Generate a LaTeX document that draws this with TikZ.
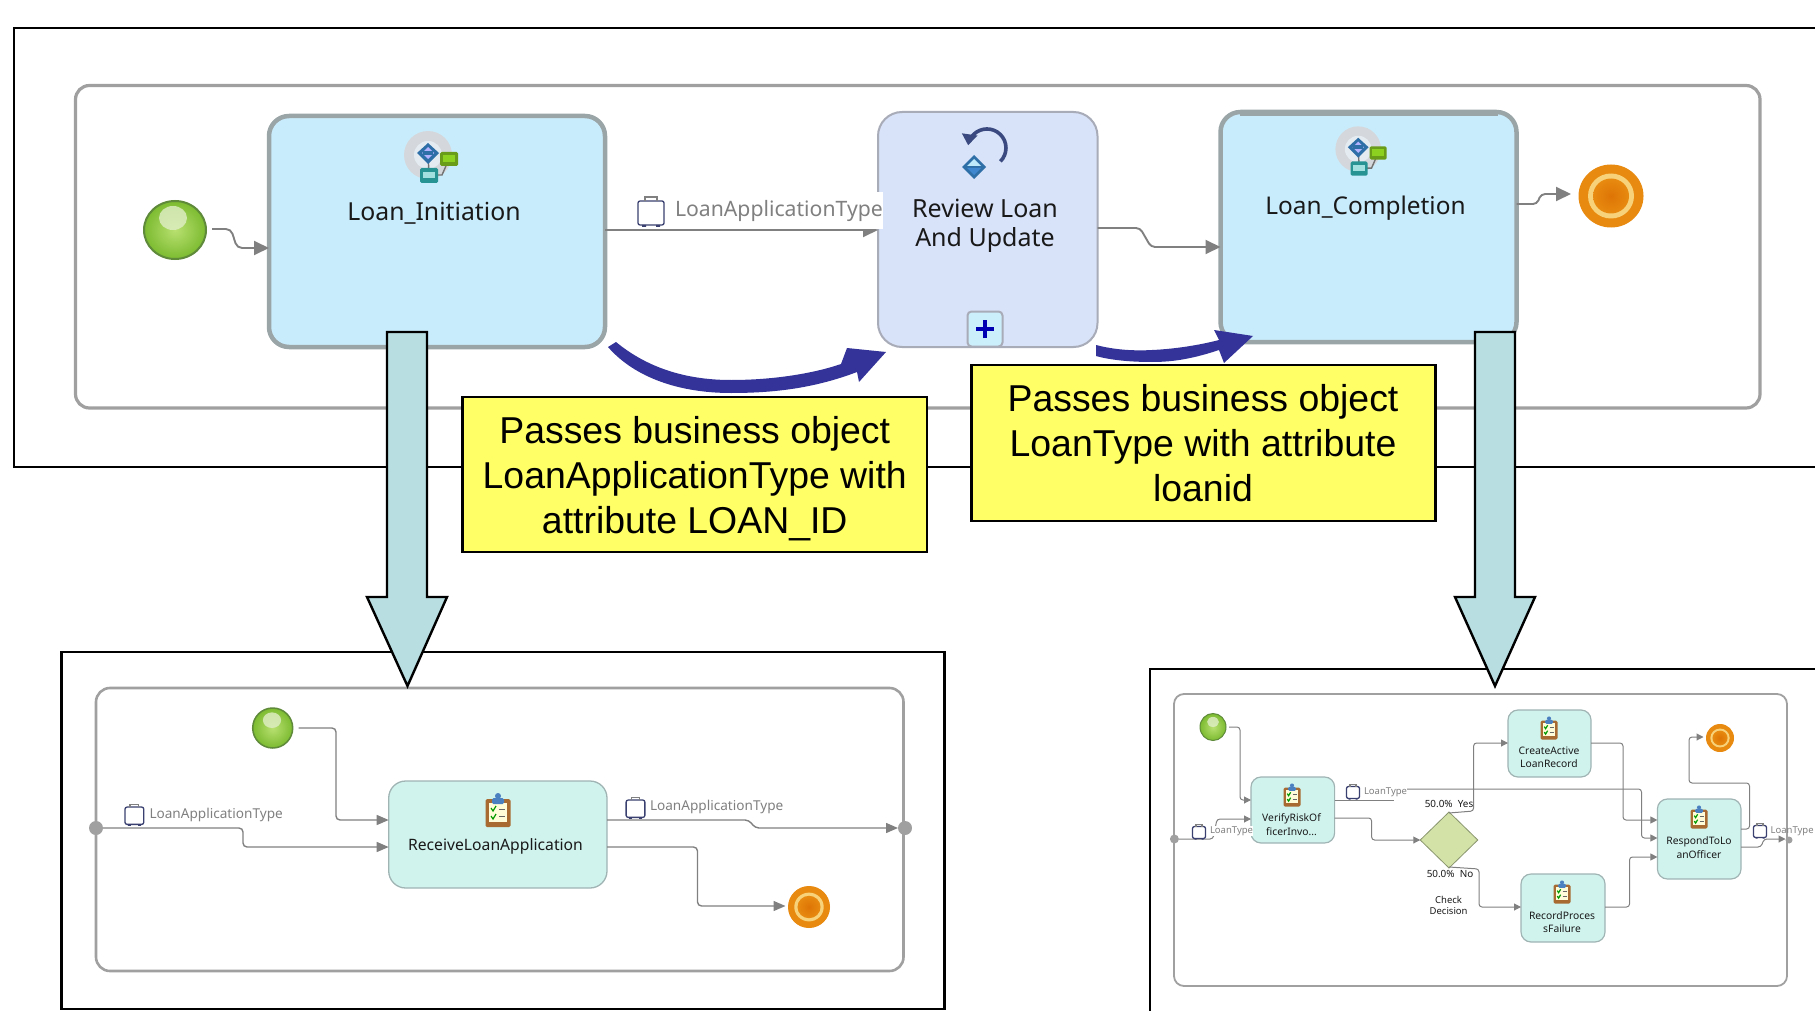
\documentclass[tikz,border=0pt]{standalone}
\usepackage{fontspec}
\setmainfont{Liberation Sans}
\newfontfamily\uifont{Noto Sans}
\usetikzlibrary{arrows.meta,shapes.geometric}
\definecolor{flowgray}{HTML}{808080}
\definecolor{contgray}{HTML}{A0A0A0}
\definecolor{subblue}{HTML}{C9ECFC}
\definecolor{subedge}{HTML}{9AA5A8}
\definecolor{loopfill}{HTML}{D8E2F8}
\definecolor{loopedge}{HTML}{A8ABB8}
\definecolor{taskfill}{HTML}{D0F3EE}
\definecolor{taskedge}{HTML}{A0B4B4}
\definecolor{bluearrow}{HTML}{333399}
\definecolor{tealarrow}{HTML}{B8DEE2}
\definecolor{noteyellow}{HTML}{FFFF66}
\definecolor{bagnavy}{HTML}{3A4070}
\definecolor{diafill}{HTML}{D3E3A8}
\definecolor{greenin}{HTML}{B8E070}
\definecolor{greenout}{HTML}{7CBB30}
\definecolor{greenedge}{HTML}{5E8A3A}
\definecolor{greenglow}{HTML}{E0EEC8}
\definecolor{orangeout}{HTML}{E88A10}
\definecolor{orangein}{HTML}{DD7405}
\definecolor{orangering}{HTML}{F8D27A}
\definecolor{boardbrown}{HTML}{A86A30}
\definecolor{clipblue}{HTML}{4A7FC0}
\definecolor{loopblue}{HTML}{3A4A80}
\definecolor{ringgray}{HTML}{D4D8DC}
\definecolor{ringcore}{HTML}{E4ECF2}
\definecolor{nodeblue}{HTML}{2F6FA8}
\definecolor{nodegreen}{HTML}{8CD020}
\definecolor{nodeteal}{HTML}{30B8B8}
\newcommand{\uisize}[1]{\uifont\fontsize{#1}{#1}\selectfont}
\tikzset{
  x=1pt,y=-1pt,
  frameline/.style={draw=black,line width=2.4pt,line join=miter},
  cont/.style={draw=contgray,line width=2.6pt,rounded corners=14pt},
  box/.style={rectangle,inner sep=0pt,outer sep=0pt},
  subproc/.style={box,draw=subedge,fill=subblue,line width=4.5pt,rounded corners=20pt},
  loopbox/.style={box,draw=loopedge,fill=loopfill,line width=2pt,rounded corners=24pt},
  taskbox/.style={box,draw=taskedge,fill=taskfill,line width=1.3pt,rounded corners=17pt},
  smalltask/.style={box,draw=taskedge,fill=taskfill,line width=1.2pt,rounded corners=10pt},
  flow/.style={draw=flowgray,line width=1.9pt,rounded corners=4pt,-{Triangle[length=15pt,width=14pt]}},
  midflow/.style={draw=flowgray,line width=1.4pt,rounded corners=4pt,-{Triangle[length=12pt,width=10pt]}},
  tinyflow/.style={draw=flowgray,line width=1pt,rounded corners=3pt,-{Triangle[length=7pt,width=7pt]}},
  startev/.style={ellipse,inner sep=0pt,outer sep=0pt,draw=greenedge,line width=2pt,inner color=greenin,outer color=greenout},
  endev/.style={ellipse,inner sep=0pt,outer sep=0pt,fill=orangeout,draw=orangeout,line width=1pt},
  txt/.style={inner sep=0pt,outer sep=0pt,align=center,text=black!90},
  lbl/.style={inner sep=0pt,outer sep=0pt,anchor=west,text=flowgray,fill=white},
  note/.style={box,draw=black,fill=noteyellow,line width=2.4pt},
  notetext/.style={inner sep=0pt,outer sep=0pt,align=center,font=\fontsize{37.4}{45}\selectfont},
  dot/.style={circle,inner sep=0pt,outer sep=0pt,fill=contgray},
  bagicon/.pic={
    \draw[draw=bagnavy,fill=white,line width=1.3pt,rounded corners=2pt] (-13,-11) rectangle (13,13);
    \draw[draw=flowgray,line width=1.3pt] (-6,-11) -- (-6,-15) -- (6,-15) -- (6,-11);
    \fill[bagnavy] (-9,13) rectangle (-5,15) (5,13) rectangle (9,15);
  },
  clipicon/.pic={
    \fill[boardbrown,rounded corners=1.5pt] (-12.5,-11) rectangle (12.5,17);
    \fill[white!85!yellow] (-9,-7) rectangle (9,12);
    \fill[clipblue,rounded corners=1.5pt] (-6,-12) rectangle (6,-6);
    \fill[clipblue] (0,-14) circle[radius=3pt];
    \draw[green!60!black,line width=1.2pt] (-7,-2) -- (-5,1) -- (-2,-4) (-7,6) -- (-5,9) -- (-2,4);
    \draw[black!60,line width=1pt] (1,-1) -- (7,-1) (1,6) -- (7,6);
  },
  processicon/.pic={
    \fill[ringgray] (-4,-3) circle[radius=24pt];
    \fill[ringcore] (-4,-3) circle[radius=14pt];
    \draw[black!55,line width=1.4pt] (-4,-5) -- (-3,17) (-3,17) -- (10,17) -- (17,1);
    \fill[nodeblue] (-4,-15) -- (7,-5) -- (-4,6) -- (-15,-5) -- cycle;
    \fill[white!70!blue] (-4,-11) -- (2,-5) -- (-4,1) -- (-10,-5) -- cycle;
    \fill[nodeblue] (-9,-7) rectangle (1,-3);
    \fill[nodegreen!75!black,rounded corners=1.5pt] (8,-6) rectangle (26,8);
    \fill[nodegreen] (11,-3) rectangle (23,4);
    \fill[nodeteal!80!black,rounded corners=1.5pt] (-12,10) rectangle (6,25);
    \fill[nodeteal!45] (-9,14) rectangle (3,20);
  },
  loopicon/.pic={
    \draw[loopblue,line width=3.6pt,-{Triangle[length=11pt,width=15pt]}] (15.4,8.4) arc[start angle=-45,end angle=172,radius=19pt];
    \fill[nodeblue] (-11,2) -- (1,14) -- (-11,26) -- (-23,14) -- cycle;
    \fill[white!75!cyan] (-11,6) -- (-4,13) -- (-18,13) -- cycle;
    \fill[cyan!55!blue!80] (-18,15) -- (-4,15) -- (-11,22) -- cycle;
  },
  startglow/.pic={
    \fill[greenglow,opacity=.8] (0,-12) ellipse[x radius=14pt,y radius=12pt];
  },
  endglow/.pic={
    \fill[orangering] (0,0) ellipse[x radius=23pt,y radius=22.5pt];
    \shade[inner color=orangein,outer color=orangeout] (0,0) ellipse[x radius=18pt,y radius=17.5pt];
  },
}
\begin{document}
\begin{tikzpicture}
\useasboundingbox (0,0) rectangle (1815,1011);
% top frame and process
\draw[frameline] (1815,28) -- (14,28) -- (14,467) -- (1815,467);
\draw[cont,line width=3.2pt] (75.5,85.5) rectangle (1760,408);

\node[startev,minimum width=62pt,minimum height=58pt] (sA) at (175,230) {};
\pic at (173,230) {startglow};
\node[subproc,minimum width=336pt,minimum height=231pt] (li) at (437,231.5) {};
\pic at (432,158) {processicon};
\node[txt,font=\uisize{24.8}] (liT) at (434,213) {Loan\_Initiation};
\node[loopbox,minimum width=219.5pt,minimum height=235pt] (rv) at (987.75,229.5) {};
\pic at (985,153) {loopicon};
\node[txt,font=\uisize{25}] (rvT) at (985,225.5) {Review Loan\\[4pt]And Update};
\node[box,draw=loopedge,fill=white!80!cyan,line width=2pt,rounded corners=4pt,minimum width=35pt,minimum height=35pt] (plus) at (985,329) {};
\draw[blue!70!black,line width=3.4pt] ([xshift=-9pt]plus.center) -- ([xshift=9pt]plus.center) ([yshift=-9pt]plus.center) -- ([yshift=9pt]plus.center);
\node[subproc,minimum width=296pt,minimum height=230pt] (lc) at (1368.5,227) {};
\draw[subedge,line width=6pt] (1240,113.5) -- (1498,113.5);
\pic[scale=.95] at (1362,152) {processicon};
\node[txt,font=\uisize{24.4}] (lcT) at (1365.5,208.5) {Loan\_Completion};
\node[endev,minimum width=64pt,minimum height=62pt] (eA) at (1611,196) {};
\pic at (1611,196) {endglow};

\draw[flow,rounded corners=5pt] ([xshift=6pt]sA.east |- 0,229) -- (231,229) -- (237,248) -- (li.west |- 0,248);
\draw[flow] (li.east |- 0,230) -- (rv.west |- 0,230);
\draw[flow] (rv.east |- 0,228) -- (1140,228) -- (1151,247) -- (lc.west |- 0,247);
\draw[flow] (lc.east |- 0,204) -- (1537,204) -- (1541,194) -- ([xshift=-8pt]eA.west |- 0,194);
\pic at (651,212) {bagicon};
\node[lbl,font=\uisize{21.2},minimum height=37pt] (lab1) at (675,211) {LoanApplicationType};

% blue arrows
\fill[bluearrow] (608,347) -- (616,342) .. controls (650,370) and (690,380) .. (731,380) .. controls (775,380) and (815,373) .. (841,364) -- (847,348) -- (886,352) -- (859,382) -- (857,372) .. controls (815,388) and (775,393) .. (731,393) .. controls (680,393) and (635,378) .. cycle;
\fill[bluearrow] (1096,345) .. controls (1115,350) and (1135,351) .. (1152,350) .. controls (1175,349) and (1200,345) .. (1219,340) -- (1214,330) -- (1253,336) -- (1224,363) -- (1219,350) .. controls (1195,358) and (1175,362) .. (1152,362) .. controls (1130,362) and (1110,360) .. (1096,356) -- cycle;

% lower left frame
\draw[frameline] (61.5,652) rectangle (944.5,1009);
\draw[cont] (96,688) rectangle (903.5,971);
\node[startev,line width=1.5pt,minimum width=40pt,minimum height=40pt] (sB) at (272.7,728) {};
\pic[scale=.65] at (272,728) {startglow};
\node[taskbox,minimum width=218.3pt,minimum height=107pt] (rl) at (497.85,834.5) {};
\pic at (498,810) {clipicon};
\node[txt,font=\uisize{15.7}] (rlT) at (495.5,846) {ReceiveLoanApplication};
\node[endev,minimum width=41pt,minimum height=41pt] (eB) at (809,907) {};
\pic[scale=.64] at (809,907) {endglow};
\node[dot,minimum size=14pt] (inB) at (96,828) {};
\node[dot,minimum size=14pt] (outB) at (905,828) {};
\draw[midflow] ([xshift=6pt]sB.east |- 0,728) -- (336,728) -- (336,820) -- (rl.west |- 0,820);
\draw[midflow] (inB.east |- 0,828) -- (243,828) -- (243,847) -- (rl.west |- 0,847);
\draw[midflow] (rl.east |- 0,820) -- (749,820) -- (755,828) -- (outB.west |- 0,828);
\draw[midflow] (rl.east |- 0,847) -- (697.5,847) -- (697.5,906) -- ([xshift=-3pt]eB.west |- 0,906);
\pic[scale=.72] at (134.4,815) {bagicon};
\node[lbl,font=\uisize{13.6}] (lab2) at (149.5,815) {LoanApplicationType};
\pic[scale=.72] at (635.5,808) {bagicon};
\node[lbl,font=\uisize{13.6}] (lab3) at (650,807) {LoanApplicationType};

% lower right frame
\draw[frameline] (1815,669) -- (1150,669) -- (1150,1011);
\draw[cont,line width=1.8pt,rounded corners=10pt] (1174,694) rectangle (1787,986);
\node[startev,line width=1pt,minimum width=26pt,minimum height=27pt] (sC) at (1213,727) {};
\pic[scale=.42] at (1213,727) {startglow};
\node[smalltask,minimum width=83.6pt,minimum height=66pt] (vr) at (1292.8,810) {};
\pic[scale=.68] at (1292,795) {clipicon};
\node[txt,font=\uisize{10.3}] (vrT) at (1291.5,824.5) {VerifyRiskOf\\[2.8pt]ficerInvo...};
\node[smalltask,minimum width=83pt,minimum height=67pt] (ca) at (1549.5,743.5) {};
\pic[scale=.68] at (1549,728) {clipicon};
\node[txt,font=\uisize{10.3}] (caT) at (1549,757.5) {CreateActive\\[2.8pt]LoanRecord};
\node[smalltask,minimum width=84pt,minimum height=68pt] (rp) at (1563,908) {};
\pic[scale=.68] at (1562,892) {clipicon};
\node[txt,font=\uisize{10.3}] (rpT) at (1562,922.5) {RecordProces\\[2.8pt]sFailure};
\node[smalltask,minimum width=83.6pt,minimum height=80pt] (ro) at (1699.2,839) {};
\pic[scale=.68] at (1699,817) {clipicon};
\node[txt,font=\uisize{10.3}] (roT) at (1699,847.5) {RespondToLo\\[2.8pt]anOfficer};
\node[diamond,inner sep=0pt,outer sep=0pt,draw=black!35!diafill,fill=diafill,line width=.8pt,minimum width=57.5pt,minimum height=56pt] (gw) at (1449,840) {};
\node[endev,minimum width=27pt,minimum height=27pt] (eC) at (1720,738) {};
\pic[scale=.42] at (1720,738) {endglow};
\node[dot,minimum size=9pt] (inC) at (1174.4,839) {};
\node[dot,minimum size=7pt] (outC) at (1789,840) {};
\draw[tinyflow] ([xshift=3pt]sC.east |- 0,727) -- (1240,727) -- (1240,800) -- (vr.west |- 0,800);
\draw[tinyflow] (inC.east |- 0,839) -- (1213,839) -- (1217,819) -- (vr.west |- 0,819);
\draw[draw=flowgray,line width=1pt] (vr.east |- 0,800) -- (1394,800);
\draw[tinyflow] (1405,789) -- (1641.5,789) -- (1641.5,838) -- (ro.west |- 0,838);
\draw[tinyflow] (vr.east |- 0,818) -- (1371.6,818) -- (1371.6,840) -- (gw.west);
\draw[tinyflow] ([yshift=-1pt]gw.north) -- (1473.6,811) -- (1473.6,743) -- (ca.west |- 0,743);
\draw[tinyflow] ([yshift=1pt]gw.south) -- (1479,869) -- (1479,907) -- (rp.west |- 0,907);
\draw[tinyflow] (ca.east |- 0,743) -- (1623,743) -- (1623,820) -- (ro.west |- 0,820);
\draw[tinyflow] (rp.east |- 0,907) -- (1629.5,907) -- (1629.5,857) -- (ro.west |- 0,857);
\draw[tinyflow] (ro.east |- 0,829) -- (1749.5,829) -- (1749.5,783) -- (1689,783) -- (1689,737) -- ([xshift=-3pt]eC.west |- 0,737);
\draw[tinyflow] (ro.east |- 0,847) -- (1761,847) -- (1764,839) -- (outC.west |- 0,839);
\pic[scale=.5] at (1199,832) {bagicon};
\node[lbl,font=\uisize{9.5}] (lab4) at (1210,831) {LoanType};
\pic[scale=.5] at (1353,792) {bagicon};
\node[lbl,font=\uisize{9.5}] (lab5) at (1364,792) {LoanType};
\pic[scale=.5] at (1760,831) {bagicon};
\node[lbl,font=\uisize{9.5},fill=none] (lab6) at (1770.6,831) {LoanType};
\node[txt,font=\uisize{9.9}] (yes) at (1449,804) {50.0\%\ \ Yes};
\node[txt,font=\uisize{9.9}] (no) at (1450,874) {50.0\%\ \ No};
\node[txt,font=\uisize{9.5}] (chk) at (1448.6,905) {Check\\[1.5pt]Decision};

% big arrows
\draw[frameline,fill=tealarrow] (387,332) -- (427,332) -- (427,597) -- (447,597) -- (407.5,686) -- (367,597) -- (387,597) -- cycle;
\draw[frameline,fill=tealarrow] (1475,332) -- (1515,332) -- (1515,597) -- (1535,597) -- (1495,686) -- (1455,597) -- (1475,597) -- cycle;

% notes
\node[note,minimum width=464.5pt,minimum height=155pt] (n1) at (694.75,474.5) {};
\node[notetext] (n1T) at (694.75,479) {Passes business object\\LoanApplicationType with\\attribute LOAN\_ID};
\node[note,minimum width=464pt,minimum height=156pt] (n2) at (1203.5,443) {};
\node[notetext] (n2T) at (1203,443) {Passes business object\\LoanType with attribute\\loanid};
\end{tikzpicture}
\end{document}
